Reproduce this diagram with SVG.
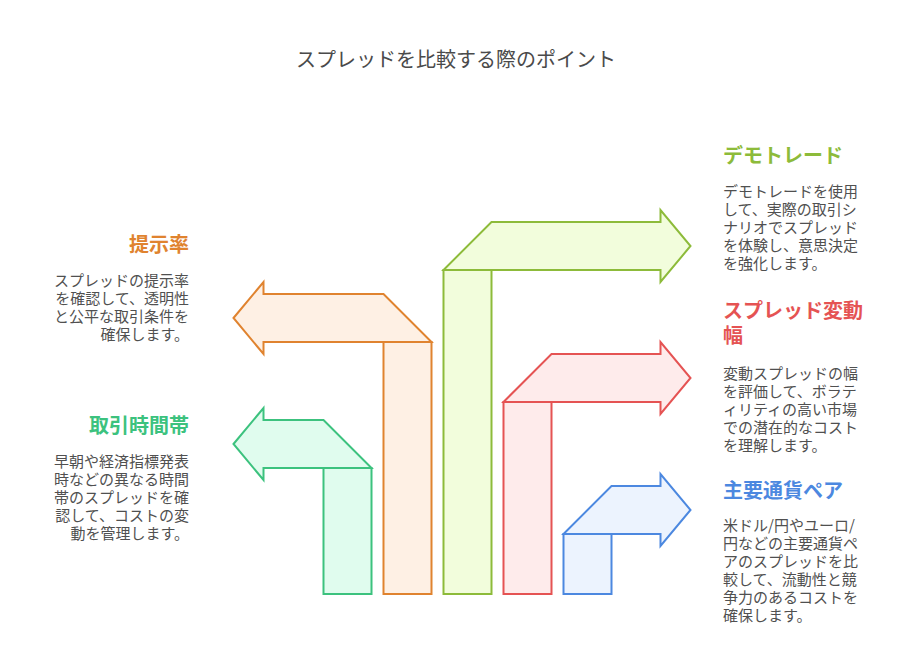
<svg xmlns="http://www.w3.org/2000/svg" width="912" height="672" viewBox="0 0 912 672">
<style>
text{font-family:"Noto Sans CJK JP","Noto Sans",sans-serif;}
.title{font-size:20px;fill:#4a4a4a;text-anchor:middle;}
.h{font-size:20px;font-weight:bold;}
.b{font-size:15px;fill:#505050;}
.end{text-anchor:end;}
.shape{stroke-width:2;stroke-linejoin:miter;}
.orange{fill:#FEF0E4;stroke:#E0832F;}
.green{fill:#E0FCEE;stroke:#3CC27E;}
.lime{fill:#F2FDDC;stroke:#8DBB3A;}
.red{fill:#FEEBEB;stroke:#E55353;}
.blue{fill:#ECF3FE;stroke:#4C88E0;}
</style>
<rect width="912" height="672" fill="#ffffff"/>
<text class="title" x="456" y="67">スプレッドを比較する際のポイント</text>
<g id="connectors"></g>
<g id="node-teiji">
<path class="shape orange" d="M233.5,318 L263.5,282 L263.5,294 L383.5,294 L431.5,342 L263.5,342 L263.5,354 Z"/>
<rect class="shape orange" x="383.5" y="342" width="48" height="252"/>
<text class="h end" x="189" y="252" fill="#E0832F">提示率</text>
<text class="b end"><tspan x="189" y="286">スプレッドの提示率</tspan><tspan x="189" y="304">を確認して、透明性</tspan><tspan x="189" y="322">と公平な取引条件を</tspan><tspan x="189" y="340">確保します。</tspan></text>
</g>
<g id="node-jikan">
<path class="shape green" d="M233.5,444 L263.5,408 L263.5,420 L323.5,420 L371.5,468 L263.5,468 L263.5,480 Z"/>
<rect class="shape green" x="323.5" y="468" width="48" height="126"/>
<text class="h end" x="189" y="433" fill="#3CC27E">取引時間帯</text>
<text class="b end"><tspan x="189" y="467">早朝や経済指標発表</tspan><tspan x="189" y="485">時などの異なる時間</tspan><tspan x="189" y="503">帯のスプレッドを確</tspan><tspan x="189" y="521">認して、コストの変</tspan><tspan x="189" y="539">動を管理します。</tspan></text>
</g>
<g id="node-demo">
<rect class="shape lime" x="443.5" y="270" width="48" height="324"/>
<path class="shape lime" d="M443.5,270 L491.5,222 L660.5,222 L660.5,210 L690.5,246 L660.5,282 L660.5,270 Z"/>
<text class="h" x="723" y="163" fill="#8DBB3A">デモトレード</text>
<text class="b"><tspan x="723" y="197">デモトレードを使用</tspan><tspan x="723" y="215">して、実際の取引シ</tspan><tspan x="723" y="233">ナリオでスプレッド</tspan><tspan x="723" y="251">を体験し、意思決定</tspan><tspan x="723" y="269">を強化します。</tspan></text>
</g>
<g id="node-hendo">
<rect class="shape red" x="503.5" y="402" width="48" height="192"/>
<path class="shape red" d="M503.5,402 L551.5,354 L660.5,354 L660.5,342 L690.5,378 L660.5,414 L660.5,402 Z"/>
<text class="h" fill="#E55353"><tspan x="723" y="318">スプレッド変動</tspan><tspan x="723" y="343">幅</tspan></text>
<text class="b"><tspan x="723" y="379">変動スプレッドの幅</tspan><tspan x="723" y="397">を評価して、ボラテ</tspan><tspan x="723" y="415">ィリティの高い市場</tspan><tspan x="723" y="433">での潜在的なコスト</tspan><tspan x="723" y="451">を理解します。</tspan></text>
</g>
<g id="node-tsuka">
<rect class="shape blue" x="563.5" y="534" width="48" height="60"/>
<path class="shape blue" d="M563.5,534 L611.5,486 L660.5,486 L660.5,474 L690.5,510 L660.5,546 L660.5,534 Z"/>
<text class="h" x="723" y="498" fill="#4C88E0">主要通貨ペア</text>
<text class="b"><tspan x="723" y="531">米ドル/円やユーロ/</tspan><tspan x="723" y="549">円などの主要通貨ペ</tspan><tspan x="723" y="567">アのスプレッドを比</tspan><tspan x="723" y="585">較して、流動性と競</tspan><tspan x="723" y="603">争力のあるコストを</tspan><tspan x="723" y="621">確保します。</tspan></text>
</g>
</svg>
